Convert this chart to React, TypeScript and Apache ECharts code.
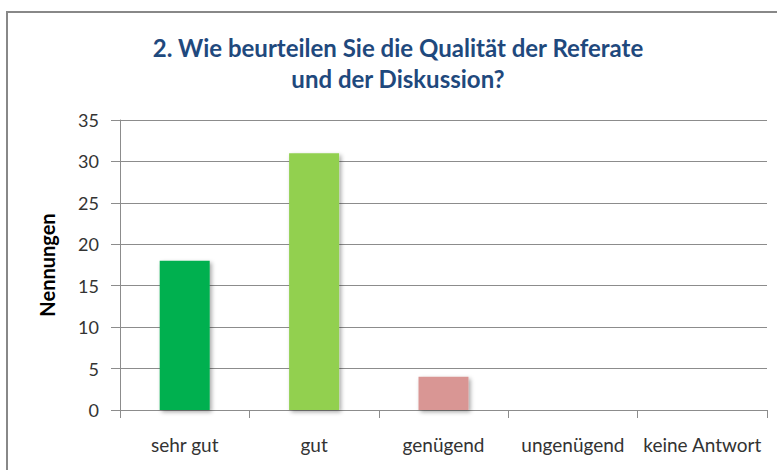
import React, { useEffect, useRef } from "react";
import * as echarts from "echarts";

const categories = ["sehr gut", "gut", "genügend", "ungenügend", "keine Antwort"];
const values = [18, 31, 4, 0, 0];
const barColors = ["#00B050", "#92D050", "#D99694", "#4F81BD", "#4F81BD"];
const titleLines = ["2. Wie beurteilen Sie die Qualität der Referate", "und der Diskussion?"];
const yAxisName = "Nennungen";
const yMax = 35;
const yInterval = 5;

export default function App() {
  const ref = useRef<HTMLDivElement>(null);
  useEffect(() => {
    if (!ref.current) return;
    const chart = echarts.init(ref.current, null, { renderer: "svg" });
    const axisGray = "#8c8c8c";
    const font = "Lato, 'Open Sans', sans-serif";
    chart.setOption({
      animation: false,
      backgroundColor: "#ffffff",
      graphic: [
        {
          type: "rect",
          shape: { x: 7, y: 12, width: 820, height: 520 },
          style: { fill: "none", stroke: "#888888", lineWidth: 2 },
          silent: true,
        },
        {
          type: "text",
          x: 398,
          y: 47,
          style: {
            text: titleLines[0],
            fill: "#1F497D",
            font: `bold 24px ${font}`,
            align: "center",
            verticalAlign: "middle",
          },
          silent: true,
        },
        {
          type: "text",
          x: 398,
          y: 78,
          style: {
            text: titleLines[1],
            fill: "#1F497D",
            font: `bold 24px ${font}`,
            align: "center",
            verticalAlign: "middle",
          },
          silent: true,
        },
      ],
      grid: { left: 120, top: 120, width: 647, height: 290, containLabel: false },
      xAxis: {
        type: "category",
        data: categories,
        boundaryGap: true,
        axisLine: { show: true, lineStyle: { color: axisGray, width: 1 } },
        axisTick: { show: true, length: 8, alignWithLabel: false, lineStyle: { color: axisGray } },
        axisLabel: { color: "#333333", fontSize: 19, fontFamily: font, margin: 25, interval: 0 },
        splitLine: { show: false },
      },
      yAxis: {
        type: "value",
        min: 0,
        max: yMax,
        interval: yInterval,
        name: yAxisName,
        nameLocation: "middle",
        nameRotate: 90,
        nameGap: 63,
        nameTextStyle: { color: "#000000", fontWeight: "bold", fontSize: 20, fontFamily: font },
        axisLine: { show: true, lineStyle: { color: axisGray, width: 1 } },
        axisTick: { show: true, length: 9, lineStyle: { color: axisGray } },
        axisLabel: { color: "#333333", fontSize: 18, fontFamily: font, margin: 21 },
        splitLine: { show: true, lineStyle: { color: axisGray, width: 1 } },
      },
      series: [
        {
          type: "bar",
          barWidth: 50,
          data: values.map((v, i) => ({
            value: v,
            itemStyle: {
              color: barColors[i],
              shadowColor: "rgba(0,0,0,0.35)",
              shadowBlur: 4,
              shadowOffsetX: 2,
              shadowOffsetY: 2,
            },
          })),
        },
      ],
    });
    return () => chart.dispose();
  }, []);
  return (
    <div
      ref={ref}
      style={{ position: "fixed", left: 0, top: 0, width: 777, height: 470, background: "#fff" }}
    />
  );
}
